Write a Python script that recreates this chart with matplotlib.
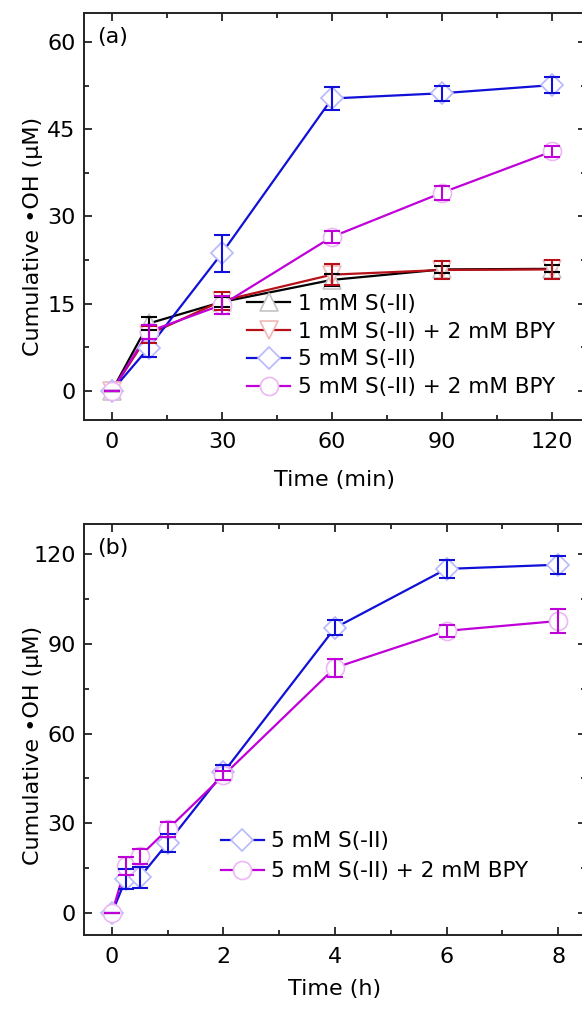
import matplotlib
matplotlib.use("Agg")
import matplotlib.pyplot as plt
from matplotlib.lines import Line2D
from matplotlib.ticker import MultipleLocator, AutoMinorLocator

plt.rcParams['font.family'] = ['DejaVu Sans']

# ---------------- data: panel (a) ----------------
time_a = [0, 10, 30, 60, 90, 120]
s1 = [0, 11.6, 15.3, 19.1, 20.9, 21.0]
s1_err = [0, 1.2, 0.8, 1.0, 0.6, 0.6]
s1_bpy = [0, 9.7, 15.5, 20.0, 20.8, 20.9]
s1_bpy_err = [0, 1.5, 1.5, 1.8, 1.6, 1.6]
s5 = [0, 7.4, 23.7, 50.3, 51.2, 52.6]
s5_err = [0, 1.5, 3.2, 2.0, 1.3, 1.4]
s5_bpy = [0, 10.2, 14.8, 26.5, 34.1, 41.2]
s5_bpy_err = [0, 1.2, 1.5, 1.0, 1.2, 1.0]

# ---------------- data: panel (b) ----------------
time_b = [0, 0.25, 0.5, 1, 2, 4, 6, 8]
b_s5 = [0, 11.4, 12.0, 23.4, 47.0, 95.3, 115.0, 116.4]
b_s5_err = [0, 3.5, 3.5, 3.0, 2.5, 2.5, 3.0, 3.0]
b_s5_bpy = [0, 15.7, 19.0, 28.0, 46.0, 82.0, 94.3, 97.6]
b_s5_bpy_err = [0, 3.0, 2.5, 2.5, 1.5, 3.0, 2.0, 4.0]

labels_a = ['1 mM S(-II)', '1 mM S(-II) + 2 mM BPY', '5 mM S(-II)', '5 mM S(-II) + 2 mM BPY']
labels_b = ['5 mM S(-II)', '5 mM S(-II) + 2 mM BPY']

# styles
C_BLACK, C_RED, C_BLUE, C_MAG = '#000000', '#b81018', '#1010d8', '#c000d8'
E_BLACK, E_RED, E_BLUE, E_MAG = '#c4c4c4', '#f0b8b8', '#b8b8ff', '#ecb8f4'

FS = 16
FS_LEG = 15.5

fig = plt.figure(figsize=(5.82, 10.10), dpi=100)
axA = fig.add_axes([84/582, 1-420/1010, (586-84)/582, 407/1010])
axB = fig.add_axes([84/582, 1-935/1010, (586-84)/582, 411/1010])


def series(ax, x, y, err, color, ecol, marker, ms):
    ax.plot(x, y, color=color, lw=1.6, zorder=2)
    ax.plot(x, y, ls='none', marker=marker, ms=ms, mfc='white', mec=ecol, mew=1.2, zorder=3)
    ax.errorbar(x, y, yerr=err, fmt='none', ecolor=color, elinewidth=1.5,
                capsize=6, capthick=1.5, zorder=4)
    return Line2D([], [], color=color, lw=1.6, marker=marker, ms=ms, mfc='white',
                  mec=ecol, mew=1.2)


h = []
h.append(series(axA, time_a, s1, s1_err, C_BLACK, E_BLACK, '^', 13))
h.append(series(axA, time_a, s1_bpy, s1_bpy_err, C_RED, E_RED, 'v', 13))
h.append(series(axA, time_a, s5, s5_err, C_BLUE, E_BLUE, 'D', 11.5))
h.append(series(axA, time_a, s5_bpy, s5_bpy_err, C_MAG, E_MAG, 'o', 13))

hb = []
hb.append(series(axB, time_b, b_s5, b_s5_err, C_BLUE, E_BLUE, 'D', 11.5))
hb.append(series(axB, time_b, b_s5_bpy, b_s5_bpy_err, C_MAG, E_MAG, 'o', 13))


def style(ax, xlim, ylim, xmaj, ymaj, xlabel, tag):
    ax.set_xlim(*xlim)
    ax.set_ylim(*ylim)
    ax.xaxis.set_major_locator(MultipleLocator(xmaj))
    ax.yaxis.set_major_locator(MultipleLocator(ymaj))
    ax.xaxis.set_minor_locator(AutoMinorLocator(2))
    ax.yaxis.set_minor_locator(AutoMinorLocator(2))
    ax.tick_params(which='both', direction='in', top=True, right=True, width=1.3, color='#222222')
    ax.tick_params(which='major', length=5.5)
    ax.tick_params(which='minor', length=3.5)
    ax.tick_params(axis='x', pad=8.5, labelsize=FS)
    ax.tick_params(axis='y', pad=6, labelsize=FS)
    for s in ax.spines.values():
        s.set_linewidth(1.4)
        s.set_color('#222222')
    ax.set_xlabel(xlabel, fontsize=FS)
    ax.set_ylabel('Cumulative \u2022OH (\u03bcM)', fontsize=FS)
    ax.text(0.027, 0.965, tag, transform=ax.transAxes, fontsize=FS, ha='left', va='top')


style(axA, (-7.6, 129.2), (-5, 65), 30, 15, 'Time (min)', '(a)')
axA.xaxis.set_label_coords(0.5, -0.122)
axA.yaxis.set_label_coords(-0.082, 0.452)
style(axB, (-0.5, 8.5), (-7.3, 130), 2, 30, 'Time (h)', '(b)')
axB.xaxis.set_label_coords(0.5, -0.108)
axB.yaxis.set_label_coords(-0.082, 0.462)

legA = axA.legend(h, labels_a, loc='upper left', bbox_to_anchor=(0.325, 0.31),
                  frameon=False, fontsize=FS_LEG, numpoints=1, handlelength=2.0,
                  handletextpad=0.35, labelspacing=0.36, borderpad=0, borderaxespad=0)
legB = axB.legend(hb, labels_b, loc='upper left', bbox_to_anchor=(0.272, 0.252),
                  frameon=False, fontsize=FS_LEG, numpoints=1, handlelength=2.0,
                  handletextpad=0.35, labelspacing=0.45, borderpad=0, borderaxespad=0)

fig.savefig('out.png', dpi=100)
